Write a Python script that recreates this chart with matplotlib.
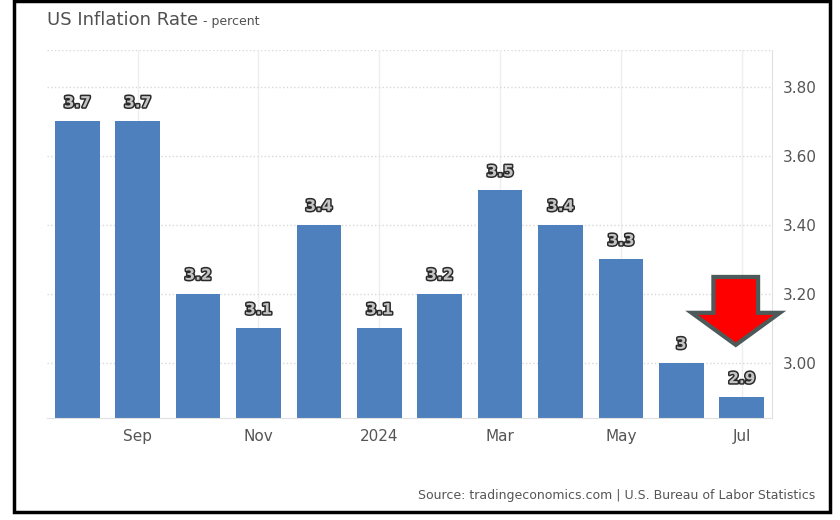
import matplotlib
matplotlib.use("Agg")
import matplotlib.pyplot as plt
import matplotlib.patheffects as pe
from matplotlib.patches import FancyArrow, Rectangle

months = ["Aug", "Sep", "Oct", "Nov", "Dec", "Jan", "Feb", "Mar", "Apr", "May", "Jun", "Jul"]
rates = [3.7, 3.7, 3.2, 3.1, 3.4, 3.1, 3.2, 3.5, 3.4, 3.3, 3.0, 2.9]
value_labels = ["3.7", "3.7", "3.2", "3.1", "3.4", "3.1", "3.2", "3.5", "3.4", "3.3", "3", "2.9"]
tick_pos = [1, 3, 5, 7, 9, 11]
tick_labels = ["Sep", "Nov", "2024", "Mar", "May", "Jul"]
y_ticks = [3.0, 3.2, 3.4, 3.6, 3.8]

fig = plt.figure(figsize=(8.4, 5.2), dpi=100)
ax = fig.add_axes([47 / 840, 102 / 520, 725 / 840, 368 / 520])

x = list(range(len(rates)))
ax.bar(x, rates, width=0.74, color="#4e80bd", zorder=2)

for xi, v, lab in zip(x, rates, value_labels):
    ax.annotate(lab, (xi, v), xytext=(0, 8), textcoords="offset points",
                ha="center", va="bottom", fontsize=11, fontweight="bold",
                color="#c4c4c4",
                path_effects=[pe.withStroke(linewidth=2.2, foreground="#2a2a2a")])

ax.set_xlim(-0.5, 11.5)
ax.set_ylim(2.84, 3.907)
ax.set_xticks(tick_pos)
ax.set_xticklabels(tick_labels, fontsize=11, color="#555555")
ax.set_yticks(y_ticks)
ax.set_yticklabels(["%.2f" % t for t in y_ticks], fontsize=11, color="#555555")
ax.yaxis.tick_right()
ax.tick_params(axis="both", length=0, pad=8)

ax.grid(axis="y", linestyle=":", color="#d8d8d8", linewidth=1, zorder=0)
ax.grid(axis="x", linestyle="-", color="#eeeeee", linewidth=1, zorder=0)
ax.axhline(3.907, linestyle=":", color="#d8d8d8", linewidth=1, zorder=0)
for s in ["top", "left"]:
    ax.spines[s].set_visible(False)
ax.spines["right"].set_color("#e0e0e0")
ax.spines["bottom"].set_color("#e0e0e0")

# red down arrow next to the last bar
arrow = FancyArrow(10.9, 3.249, 0, -0.197, width=0.74, head_width=1.46,
                   head_length=0.093, length_includes_head=True,
                   facecolor="#ff0000", edgecolor="#4d5a5a", linewidth=3,
                   clip_on=False, zorder=5)
ax.add_patch(arrow)

fig.text(47 / 840, 1 - 20 / 520, "US Inflation Rate", fontsize=13, color="#505050",
         va="center", ha="left")
fig.text(203 / 840, 1 - 21 / 520, "- percent", fontsize=9, color="#505050",
         va="center", ha="left")
fig.text(815 / 840, 1 - 496 / 520,
         "Source: tradingeconomics.com | U.S. Bureau of Labor Statistics",
         fontsize=9, color="#555555", va="center", ha="right")

fig.patches.append(Rectangle((14 / 840, 8 / 520), 816 / 840, 511 / 520,
                             transform=fig.transFigure, fill=False,
                             edgecolor="black", linewidth=2.5))

fig.savefig("out.png", dpi=100)
